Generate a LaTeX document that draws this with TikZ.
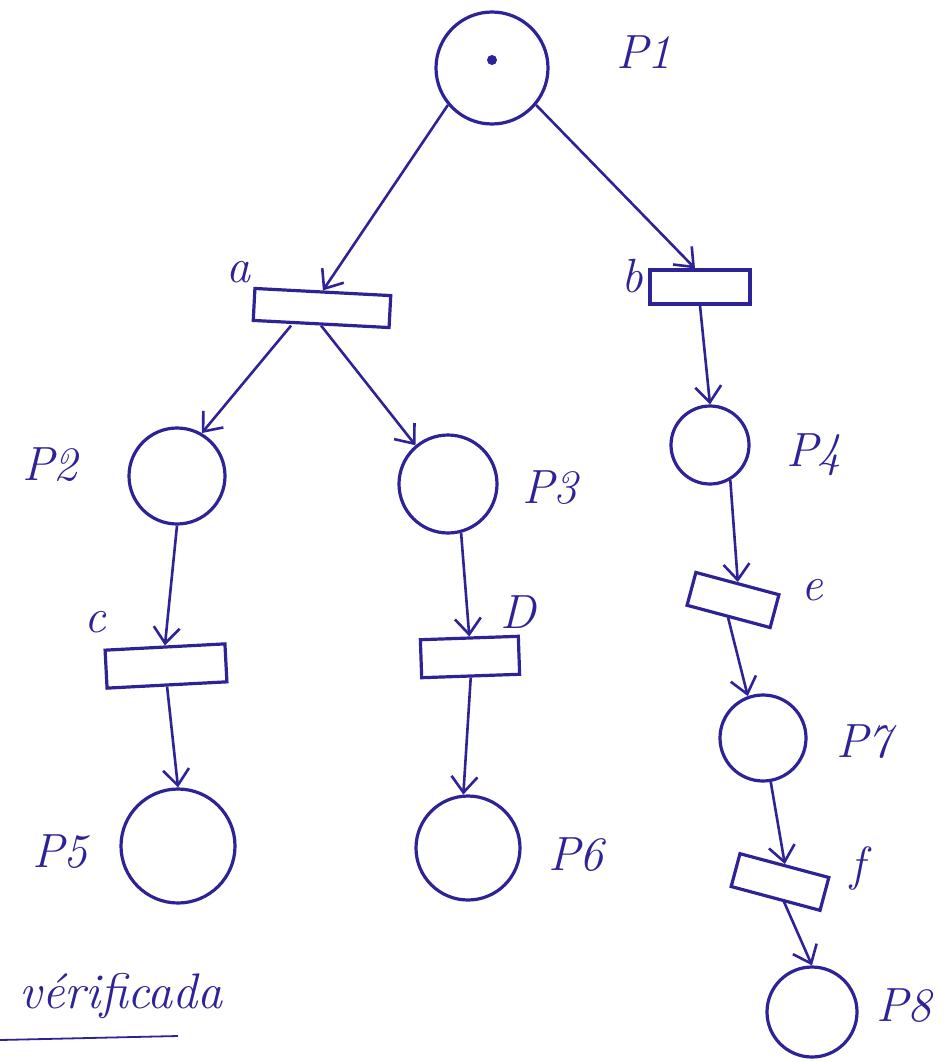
\documentclass[tikz,border=0pt]{standalone}
\usetikzlibrary{arrows.meta}
\definecolor{ink}{RGB}{45,35,150}
\begin{document}
\begin{tikzpicture}[x=1pt,y=-1pt,
  every node/.style={text=ink},
  place/.style={circle,draw=ink,line width=3.2pt,inner sep=0pt},
  trans/.style={rectangle,draw=ink,line width=3.2pt,inner sep=0pt},
  lbl/.style={font=\fontsize{48}{52}\selectfont\itshape,text=ink},
  arc/.style={draw=ink,line width=2.6pt,-{Straight Barb[length=16pt,width=26pt,line width=2.6pt]}}]
\useasboundingbox (0,0) rectangle (943,1062);
% places
\node[place,minimum size=112pt] (p1) at (492,68) {};
\fill[ink] (492,60) circle (5pt);
\node[place,minimum size=96pt] (p2) at (177,476) {};
\node[place,minimum size=98pt] (p3) at (448,484) {};
\node[place,minimum size=78pt] (p4) at (710,445) {};
\node[place,minimum size=114pt] (p5) at (178,846) {};
\node[place,minimum size=104pt] (p6) at (468,848) {};
\node[place,minimum size=86pt] (p7) at (763,738) {};
\node[place,minimum size=90pt] (p8) at (812,1012) {};
% transitions
\node[trans,minimum width=136pt,minimum height=32pt,rotate=-3] (a) at (322,308) {};
\node[trans,minimum width=100pt,minimum height=34pt] (b) at (700,287) {};
\node[trans,minimum width=120pt,minimum height=38pt,rotate=3] (c) at (166,666) {};
\node[trans,minimum width=98pt,minimum height=38pt,rotate=2] (d) at (470,657) {};
\node[trans,minimum width=86pt,minimum height=34pt,rotate=-15] (e) at (733,600) {};
\node[trans,minimum width=92pt,minimum height=34pt,rotate=-15] (f) at (780,882) {};
% labels
\node[lbl] (lp1) at (644,52) {P1};
\node[lbl] (la) at (238,272) {a};
\node[lbl] (lb) at (632,276) {b};
\node[lbl] (lp2) at (50,465) {P2};
\node[lbl] (lp3) at (550,488) {P3};
\node[lbl] (lp4) at (814,455) {P4};
\node[lbl] (lc) at (95,622) {c};
\node[lbl] (ld) at (518,612) {D};
\node[lbl] (le) at (812,590) {e};
\node[lbl] (lp5) at (60,852) {P5};
\node[lbl] (lp6) at (576,855) {P6};
\node[lbl] (lp7) at (864,742) {P7};
\node[lbl] (lf) at (858,868) {f};
\node[lbl] (lp8) at (904,1006) {P8};
\node[lbl,anchor=west,font=\fontsize{50}{54}\selectfont\itshape] (ver) at (16,996) {vérificada};
\coordinate (ul1) at (0,1040);
\coordinate (ul2) at (178,1036);
\draw[ink,line width=1.8pt] (ul1) -- (ul2);
% arcs
\draw[arc] (p1.220) -- (a.north);
\draw[arc] (p1.-40) -- ([xshift=-5pt]b.north);
\draw[arc] ([xshift=-30pt]a.south) -- (p2.60);
\draw[arc] (a.south) -- (p3.130);
\draw[arc] (b.south) -- (p4.north);
\draw[arc] (p2.south) -- (c.north);
\draw[arc] (p3.-75) -- (d.north);
\draw[arc] (p4.-60) -- (e.north);
\draw[arc] (c.south) -- (p5.north);
\draw[arc] (d.south) -- (p6.95);
\draw[arc] (e.south) -- (p7.110);
\draw[arc] (p7.-80) -- (f.north);
\draw[arc] ([xshift=8pt]f.south) -- (p8.north);
\end{tikzpicture}
\end{document}
